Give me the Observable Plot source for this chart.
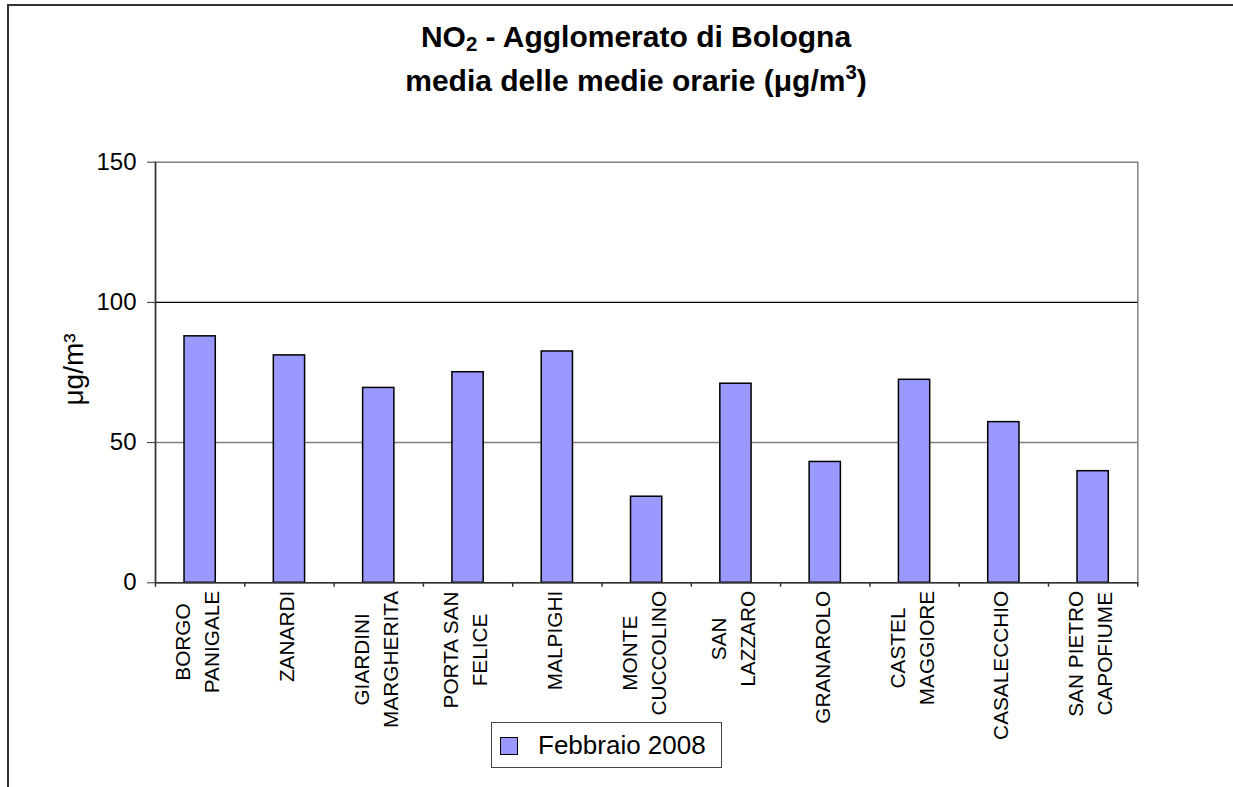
<!DOCTYPE html>
<html>
<head>
<meta charset="utf-8">
<script src="https://cdn.jsdelivr.net/npm/d3@7"></script>
<script src="https://cdn.jsdelivr.net/npm/@observablehq/plot@0.6"></script>
<style>
  body { margin: 0; background: #fff; }
  #wrap { position: relative; width: 1233px; height: 787px; overflow: hidden; background: #fff;
          font-family: "Liberation Sans", Arial, sans-serif; color: #000; }
  #border { position: absolute; left: 7px; top: 4px; right: -10px; bottom: -10px;
            border-top: 2px solid #333; border-left: 2px solid #333; }
  #title { position: absolute; left: 336px; width: 600px; top: 15px; text-align: center;
           font-weight: bold; font-size: 30px; line-height: 44px; white-space: nowrap; }
  #title .sub { font-size: 0.68em; vertical-align: -0.18em; line-height: 0; }
  #title .sup { font-size: 0.68em; vertical-align: 0.6em; line-height: 0; }
  #chart { position: absolute; left: 0; top: 110px; }
  #legend { position: absolute; left: 491px; top: 722px; width: 231px; height: 46px;
            border: 1px solid #444; box-sizing: border-box; background: #fff; }
  #legend .sw { position: absolute; left: 8px; top: 14px; width: 18px; height: 18px;
                background: #9999FF; border: 1px solid #000; box-sizing: border-box; }
  #legend .lab { position: absolute; left: 46px; top: 6px; font-size: 26px; line-height: 32px; white-space: nowrap; }
</style>
</head>
<body>
<div id="wrap">
  <div id="border"></div>
  <div id="title">NO<span class="sub">2</span> - Agglomerato di Bologna<br>media delle medie orarie (μg/m<span class="sup">3</span>)</div>
  <div id="chart"></div>
  <div id="legend"><div class="sw"></div><div class="lab"></div></div>
</div>
<script>
// ---- data ----
const categories = ["BORGO PANIGALE", "ZANARDI", "GIARDINI MARGHERITA", "PORTA SAN FELICE", "MALPIGHI",
  "MONTE CUCCOLINO", "SAN LAZZARO", "GRANAROLO", "CASTEL MAGGIORE", "CASALECCHIO", "SAN PIETRO CAPOFIUME"];
const tickLabels = ["BORGO\nPANIGALE", "ZANARDI", "GIARDINI\nMARGHERITA", "PORTA SAN\nFELICE", "MALPIGHI",
  "MONTE\nCUCCOLINO", "SAN\nLAZZARO", "GRANAROLO", "CASTEL\nMAGGIORE", "CASALECCHIO", "SAN PIETRO\nCAPOFIUME"];
const values = [87.9, 81.1, 69.5, 75.1, 82.5, 30.7, 71.0, 43.1, 72.4, 57.3, 39.8];
const yTicks = [0, 50, 100, 150];
const seriesName = "Febbraio 2008";
const yLabel = "μg/m³";

// ---- layout ----
const W = 1233, H = 677;
const mL = 155, mR = 95.7, mT = 51.7, mB = 204.7;
const innerW = W - mL - mR, innerH = H - mT - mB;
const step = innerW / categories.length;
const FONT = "Liberation Sans, Arial, sans-serif";
const LABEL_SIZE = 20.8;

const data = categories.map((c, i) => ({station: c, value: values[i], label: tickLabels[i]}));

const ctx = document.createElement("canvas").getContext("2d");
ctx.font = LABEL_SIZE + "px 'Liberation Sans', Arial, sans-serif";
const blockLen = s => d3.max(s.split("\n"), l => ctx.measureText(l).width);

const labelMarks = data.map(d => Plot.text([d], {
  x: "station", text: "label", frameAnchor: "bottom", rotate: -90,
  textAnchor: "middle", lineAnchor: "middle", lineHeight: 1.4, fontSize: LABEL_SIZE,
  dx: -4.7, dy: 8 + blockLen(d.label) / 2, fill: "#000"
}));

const chart = Plot.plot({
  width: W, height: H,
  marginLeft: mL, marginRight: mR, marginTop: mT, marginBottom: mB,
  style: {fontFamily: FONT, background: "transparent", overflow: "visible"},
  x: {type: "band", domain: categories, paddingInner: 0.65, paddingOuter: 0.325, round: false, axis: null},
  y: {domain: [0, 150], axis: null},
  marks: [
    Plot.frame({stroke: "#808080", strokeWidth: 1.5}),
    Plot.ruleY([50], {stroke: "#808080", strokeWidth: 1.5}),
    Plot.ruleY([100], {stroke: "#000", strokeWidth: 1.2}),
    Plot.barY(data, {x: "station", y: "value", fill: "#9999FF", stroke: "#000", strokeWidth: 1.5}),
    Plot.ruleY([0], {stroke: "#333", strokeWidth: 1.5}),
    Plot.ruleX([categories[0]], {x: d => d, y1: 0, y2: 150, dx: -step / 2, stroke: "#333", strokeWidth: 1.5}),
    Plot.ruleX(categories, {x: d => d, dx: -step / 2, insetTop: innerH, insetBottom: -4.5, stroke: "#333", strokeWidth: 1.5}),
    Plot.ruleX([categories[categories.length - 1]], {x: d => d, dx: step / 2, insetTop: innerH, insetBottom: -4.5, stroke: "#333", strokeWidth: 1.5}),
    Plot.axisY({ticks: yTicks, tickSize: 8, tickPadding: 11, fontSize: 24, label: null, stroke: "#333", fill: "#000"}),
    Plot.text([yLabel], {frameAnchor: "left", text: d => d, rotate: -90, dx: -81.5, dy: -3, fontSize: 28, textAnchor: "middle", fill: "#000"}),
    ...labelMarks
  ]
});
document.getElementById("chart").appendChild(chart);
document.querySelector("#legend .lab").textContent = seriesName;
</script>
</body>
</html>
